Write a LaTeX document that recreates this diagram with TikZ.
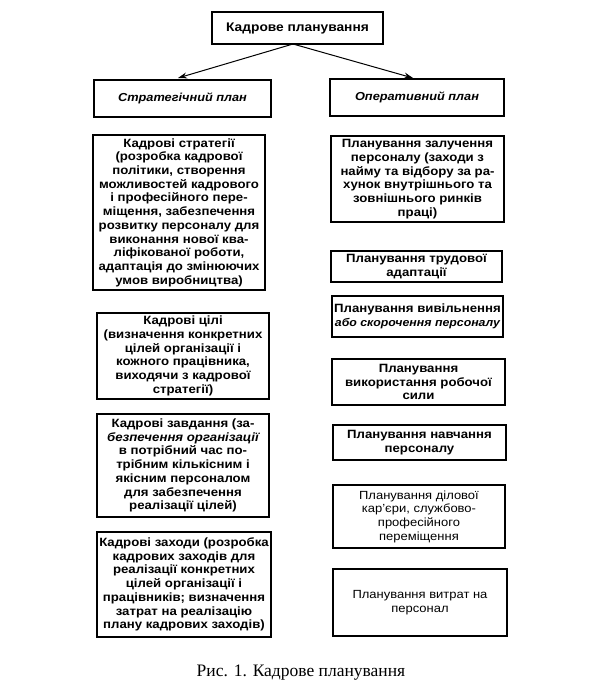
\documentclass[tikz,border=0pt]{standalone}
\usepackage{fontspec}
\setmainfont[FakeStretch=1.1]{Liberation Sans}
\newfontfamily\capfont{Liberation Serif}
\usetikzlibrary{arrows.meta}
\tikzset{
  box/.style={draw=black, line width=1.1pt, inner sep=0pt, align=center,
    font=\fontsize{12}{13.7}\selectfont\bfseries},
  boxlight/.style={box, font=\fontsize{11.8}{13.7}\selectfont},
  hdr/.style={box, font=\fontsize{11.6}{14}\selectfont\bfseries\itshape},
  arr/.style={-{Stealth[length=9pt,width=6pt]}, line width=1pt}
}
\newcommand{\bx}[7]{% style, name, cx, cy, w, h, text
  \node[#1, minimum width=#5pt, minimum height=#6pt] (#2) at (#3pt,-#4pt) {#7};}
\begin{document}
\begin{tikzpicture}
\useasboundingbox (0,0) rectangle (600pt,-691pt);
\bx{box,line width=1.6pt,font=\fontsize{12.5}{15}\selectfont\bfseries}{top}{297.5}{28}{171}{32}{Кадрове планування}
\bx{hdr}{str}{182.5}{98.5}{177}{37}{Стратегічний план}
\bx{hdr}{oper}{417}{97.5}{174}{37}{Оперативний план}
\coordinate (src) at (293pt,-44pt);
\coordinate (lt) at (178pt,-78pt);
\coordinate (rt) at (413pt,-78pt);
\draw[arr] (src) -- (lt);
\draw[arr] (src) -- (rt);
\bx{box}{l1}{179}{212.5}{172}{155}{Кадрові стратегії\\(розробка кадрової\\політики, створення\\можливостей кадрового\\і професійного пере-\\міщення, забезпечення\\розвитку персоналу для\\виконання нової ква-\\ліфікованої роботи,\\адаптація до змінюючих\\умов виробництва)}
\bx{box}{l2}{183}{356}{172}{86}{Кадрові цілі\\(визначення конкретних\\цілей організації і\\кожного працівника,\\виходячи з кадрової\\стратегії)}
\bx{box}{l3}{183}{465.5}{172}{103}{Кадрові завдання (за-\\{\itshape безпечення організації}\\в потрібний час по-\\трібним кількісним і\\якісним персоналом\\для забезпечення\\реалізації цілей)}
\bx{box}{l4}{184}{584.5}{174}{105}{Кадрові заходи (розробка\\кадрових заходів для\\реалізації конкретних\\цілей організації і\\працівників; визначення\\затрат на реалізацію\\плану кадрових заходів)}
\bx{box}{r1}{417.5}{179}{173}{86}{Планування залучення\\персоналу (заходи з\\найму та відбору за ра-\\хунок внутрішнього та\\зовнішнього ринків\\праці)}
\bx{box}{r2}{416.5}{266.5}{171}{31}{Планування трудової\\адаптації}
\bx{box}{r3}{417.5}{316.5}{171}{41}{Планування вивільнення\\{\fontsize{11.2}{13.7}\selectfont\itshape або скорочення персоналу}}
\bx{box}{r4}{418.5}{382}{173}{46}{Планування\\використання робочої\\сили}
\bx{box}{r5}{419.5}{442.5}{173}{35}{Планування навчання\\персоналу}
\bx{boxlight}{r6}{419}{516.5}{172}{63}{Планування ділової\\кар’єри, службово-\\професійного\\переміщення}
\bx{boxlight}{r7}{420}{602.5}{174}{67}{Планування витрат на\\персонал}
\node[font=\fontsize{17.5}{19}\selectfont\capfont, inner sep=0pt] (cap) at (301pt,-673pt) {Рис. 1. Кадрове планування};
\end{tikzpicture}
\end{document}
